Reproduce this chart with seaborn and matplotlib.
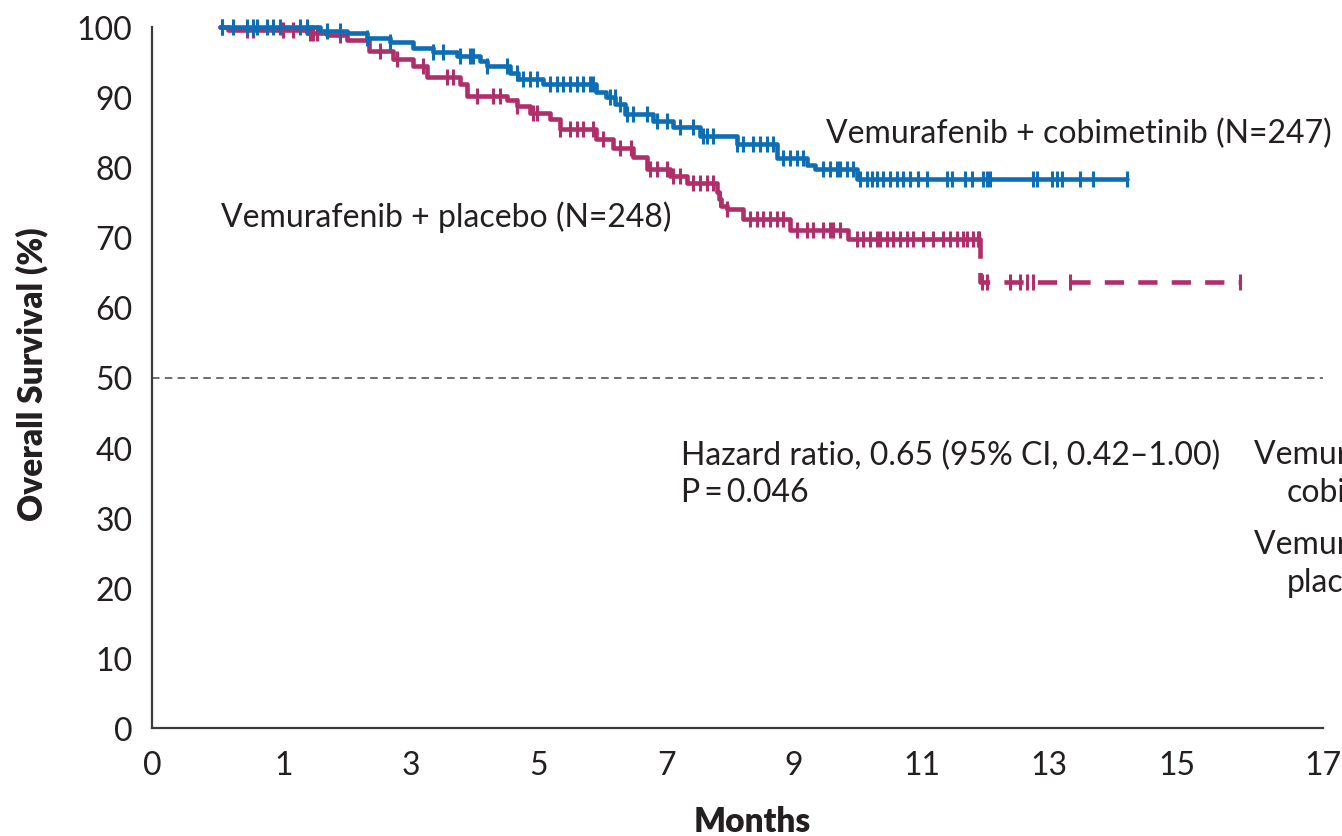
import numpy as np
import matplotlib
matplotlib.use("Agg")
import matplotlib.pyplot as plt
import seaborn as sns

# ---- Kaplan-Meier data (months, overall survival %) ----
cobi_times = [0.0, 1.57, 1.99, 2.30, 2.66, 3.03, 3.34, 3.71, 4.07, 4.18, 4.55, 4.68,
              5.06, 5.90, 6.05, 6.20, 6.35, 6.79, 7.10, 7.52, 8.10, 8.73, 9.20, 9.32, 9.98]
cobi_surv = [100.0, 99.4, 99.1, 98.5, 97.8, 97.0, 96.4, 95.9, 95.2, 94.5, 93.5, 92.6,
             91.9, 90.7, 90.0, 89.0, 87.6, 86.6, 85.7, 84.5, 83.3, 81.3, 80.3, 79.7, 78.3]
cobi_end = 14.22
cobi_censor = [0.03, 0.20, 0.42, 0.52, 0.58, 0.74, 0.83, 0.94, 1.25, 1.36, 1.68, 1.88,
               2.30, 2.66, 3.34, 3.50, 3.76, 3.92, 3.97, 4.19, 4.50, 4.66, 4.75, 4.86,
               4.97, 5.18, 5.28, 5.38, 5.49, 5.60, 5.69, 5.80, 5.85, 6.11, 6.19, 6.27,
               6.38, 6.47, 6.69, 6.85, 7.01, 7.21, 7.42, 7.57, 7.64, 7.73, 8.11, 8.20,
               8.36, 8.47, 8.58, 8.67, 8.83, 8.94, 9.05, 9.14, 9.45, 9.56, 9.67, 9.72,
               9.83, 9.92, 10.03, 10.14, 10.22, 10.30, 10.39, 10.50, 10.61, 10.71, 10.82,
               10.94, 11.08, 11.40, 11.48, 11.68, 11.79, 11.96, 12.02, 12.07, 12.74,
               12.80, 13.05, 13.12, 13.20, 13.48, 13.68, 14.22]

plac_times = [0.0, 0.12, 1.36, 1.68, 1.99, 2.33, 2.71, 3.03, 3.25, 3.76, 3.87, 4.50,
              4.65, 4.86, 5.17, 5.33, 5.90, 6.16, 6.47, 6.69, 7.05, 7.32, 7.79, 7.82,
              7.85, 7.95, 8.20, 8.93, 9.85, 11.91]
plac_surv = [100.0, 99.6, 99.2, 98.9, 98.2, 96.6, 95.4, 94.5, 92.8, 91.9, 90.2, 89.6,
             88.8, 87.8, 86.9, 85.4, 84.0, 82.8, 81.4, 79.7, 78.8, 77.8, 76.4, 75.5,
             74.5, 74.0, 72.6, 71.1, 69.8, 63.6]
plac_end = 15.99
plac_censor = [0.03, 0.42, 0.52, 0.99, 1.15, 1.41, 1.46, 1.52, 1.88, 2.51, 2.77, 3.18,
               3.56, 3.65, 4.03, 4.28, 4.39, 4.66, 4.91, 4.97, 5.33, 5.49, 5.60, 5.69,
               5.85, 6.00, 6.27, 6.44, 6.74, 6.85, 7.01, 7.10, 7.21, 7.42, 7.52, 7.64,
               7.73, 7.84, 7.95, 8.31, 8.42, 8.52, 8.62, 8.73, 8.83, 9.05, 9.20, 9.30,
               9.45, 9.56, 9.61, 9.72, 9.98, 10.08, 10.19, 10.30, 10.34, 10.45, 10.55,
               10.66, 10.77, 10.86, 11.02, 11.18, 11.33, 11.44, 11.55, 11.64, 11.71,
               11.81, 11.89, 11.90, 11.95, 12.02, 12.38, 12.54, 12.65, 12.74, 13.32, 15.99]
# tail of the placebo curve (few patients at risk) is drawn dashed from here on
plac_dashed_from = 11.91

cobi_label = "Vemurafenib + cobimetinib (N=247)"
plac_label = "Vemurafenib + placebo (N=248)"
hr_text = "Hazard ratio, 0.65 (95% CI, 0.42\u20131.00)"
p_text = "P\u2009=\u20090.046"
risk_labels = [("Vemurafenib +", "cobimetinib"), ("Vemurafenib +", "placebo")]

x_tick_labels = ["0", "1", "3", "5", "7", "9", "11", "13", "15", "17"]
x_tick_months = [1, 3, 5, 7, 9, 11, 13, 15]
y_ticks = [0, 10, 20, 30, 40, 50, 60, 70, 80, 90, 100]
median_ref = 50

BLUE = "#0E6EB5"
PINK = "#B02F6A"
INK = "#231F20"
AXC = "#3C3C3C"
FS = 23

sns.set_theme(style="white")
plt.rcParams["font.family"] = ["Lato", "DejaVu Sans"]
plt.rcParams["text.color"] = INK


def km_xy(times, surv, end):
    x = list(times) + [end]
    y = list(surv) + [surv[-1]]
    return np.array(x), np.array(y)


def surv_at(times, surv, t):
    idx = np.searchsorted(np.asarray(times), np.asarray(t), side="right") - 1
    return np.asarray(surv)[idx]


W, H = 1342, 837
fig = plt.figure(figsize=(W / 100, H / 100), dpi=100)
ax = fig.add_axes([152 / W, 1 - 729 / H, (1323 - 152) / W, (729 - 28) / H])

# axis scale: months, with the end ticks placed at the frame edges
m_left, m_right = -1.064, 17.29
ax.set_xlim(m_left, m_right)
ax.set_ylim(0, 100)

# 50% reference line
ax.axhline(median_ref, color="#555555", lw=1.2, ls=(0, (4.5, 3.2)), zorder=1)

LW = 3.3
# placebo curve: solid part then dashed tail
px, py = km_xy(plac_times, plac_surv, plac_end)
solid = px <= plac_dashed_from
sx = np.append(px[solid][:-1], plac_dashed_from)
sy = np.append(py[solid][:-1], py[solid][-2])
sns.lineplot(x=sx, y=sy, drawstyle="steps-post", estimator=None, sort=False,
             color=PINK, lw=LW, ax=ax, clip_on=False, zorder=3)
tail = ~solid | (px == plac_dashed_from)
tx = np.concatenate([[plac_dashed_from], px[tail]])
ty = np.concatenate([[py[solid][-2]], py[tail]])
sns.lineplot(x=tx, y=ty, drawstyle="steps-post", estimator=None, sort=False,
             color=PINK, lw=LW, ax=ax, clip_on=False, zorder=3,
             linestyle=(0, (4.2, 3.1)))
ax.plot(plac_censor, surv_at(plac_times, plac_surv, plac_censor), ls="none",
        marker="|", ms=11, mew=2.2, color=PINK, clip_on=False, zorder=3)

# cobimetinib curve
bx, by = km_xy(cobi_times, cobi_surv, cobi_end)
sns.lineplot(x=bx, y=by, drawstyle="steps-post", estimator=None, sort=False,
             color=BLUE, lw=LW, ax=ax, clip_on=False, zorder=4)
ax.plot(cobi_censor, surv_at(cobi_times, cobi_surv, cobi_censor), ls="none",
        marker="|", ms=11, mew=2.2, color=BLUE, clip_on=False, zorder=4)

# axes styling
for side in ("top", "right"):
    ax.spines[side].set_visible(False)
for side in ("left", "bottom"):
    ax.spines[side].set_color(AXC)
    ax.spines[side].set_linewidth(1.6)
ax.set_xticks([m_left] + x_tick_months + [m_right])
ax.set_xticklabels(x_tick_labels)
ax.set_yticks(y_ticks)
ax.set_yticklabels([str(v) for v in y_ticks])
ax.tick_params(axis="both", direction="out", length=10, width=1.6, color=AXC,
               labelsize=FS, labelcolor=INK)
ax.tick_params(axis="x", pad=6)
ax.tick_params(axis="y", pad=4)
ax.set_xlabel("")
ax.set_ylabel("")
ax.grid(False)

# axis titles
fig.text(752 / W, 1 - 822 / H, "Months", ha="center", va="center",
         fontsize=24, fontweight="heavy")
fig.text(32 / W, 1 - 374 / H, "Overall Survival (%)", ha="center", va="center",
         rotation=90, fontsize=24, fontweight="heavy")

# curve labels and statistics
fig.text(826 / W, 1 - 143 / H, cobi_label, ha="left", va="baseline", fontsize=FS)
fig.text(221 / W, 1 - 227 / H, plac_label, ha="left", va="baseline", fontsize=FS)
fig.text(681 / W, 1 - 465 / H, hr_text, ha="left", va="baseline", fontsize=FS)
fig.text(681 / W, 1 - 502 / H, p_text, ha="left", va="baseline", fontsize=FS)

# number-at-risk row headings at the right edge
for (l1, l2), base in zip(risk_labels, (464, 554)):
    fig.text(1254 / W, 1 - base / H, l1, ha="left", va="baseline", fontsize=FS)
    fig.text(1287 / W, 1 - (base + 38) / H, l2, ha="left", va="baseline", fontsize=FS)

fig.savefig("out.png", dpi=100)
